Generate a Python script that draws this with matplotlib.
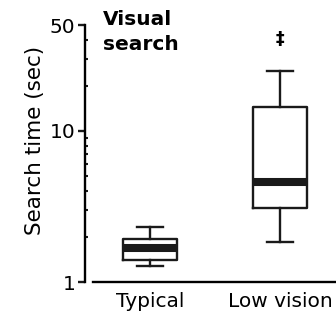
import matplotlib.pyplot as plt
from matplotlib.ticker import FixedLocator, NullFormatter

plt.rcParams["font.family"] = ["DejaVu Sans"]

GROUPS = ["Typical", "Low vision"]
WHISK_LOW = [1.28, 1.84]
Q1 = [1.40, 3.09]
MEDIAN = [1.68, 4.6]
Q3 = [1.93, 14.4]
WHISK_HIGH = [2.31, 24.9]
MARKS = ["", "‡"]

fig = plt.figure(figsize=(3.36, 3.16), dpi=100)
ax = fig.add_axes([85 / 336, 34 / 316, 251 / 336, 256.6 / 316])

stats = [
    {"whislo": lo, "q1": a, "med": m, "q3": b, "whishi": hi, "fliers": []}
    for lo, a, m, b, hi in zip(WHISK_LOW, Q1, MEDIAN, Q3, WHISK_HIGH)
]
ax.bxp(
    stats,
    positions=[1, 2],
    widths=0.41,
    capwidths=0.2,
    boxprops={"color": "#1a1a1a", "linewidth": 1.7},
    whiskerprops={"color": "#1a1a1a", "linewidth": 1.7},
    capprops={"color": "#1a1a1a", "linewidth": 1.7},
    medianprops={"color": "#1a1a1a", "linewidth": 5.8, "solid_capstyle": "butt"},
)
for i, mark in enumerate(MARKS):
    if mark:
        ax.text(i + 1, WHISK_HIGH[i] * 1.62, mark, ha="center", va="center", fontsize=12.5, fontweight="bold")

ax.set_yscale("log")
ax.set_ylim(1, 50)
ax.set_xlim(0.5, 2.43)
ax.yaxis.set_major_locator(FixedLocator([1, 10, 50]))
ax.set_yticklabels(["1", "10", "50"])
ax.yaxis.set_minor_locator(FixedLocator([2, 3, 4, 5, 6, 7, 8, 9, 20, 30, 40]))
ax.yaxis.set_minor_formatter(NullFormatter())
ax.tick_params(axis="y", which="major", length=5, width=1.7, labelsize=14.5, pad=2, color="#1a1a1a")
ax.tick_params(axis="y", which="minor", length=2.5, width=1.5, direction="in", color="#1a1a1a")
ax.set_xticks([1, 2])
ax.set_xticklabels(GROUPS)
ax.tick_params(axis="x", length=0, labelsize=14.5, pad=7)

for side in ["top", "right"]:
    ax.spines[side].set_visible(False)
ax.spines["left"].set_linewidth(1.7)
ax.spines["bottom"].set_linewidth(1.7)
ax.spines["bottom"].set_bounds(0.56, 2.43)

ax.set_ylabel("Search time (sec)", fontsize=15.5)
ax.yaxis.set_label_coords(-0.16, 0.55)
fig.text(103 / 336, 1 - 10 / 316, "Visual\nsearch", fontsize=14.5, fontweight="bold", ha="left", va="top", linespacing=1.4)

fig.savefig("out.png", dpi=100)
